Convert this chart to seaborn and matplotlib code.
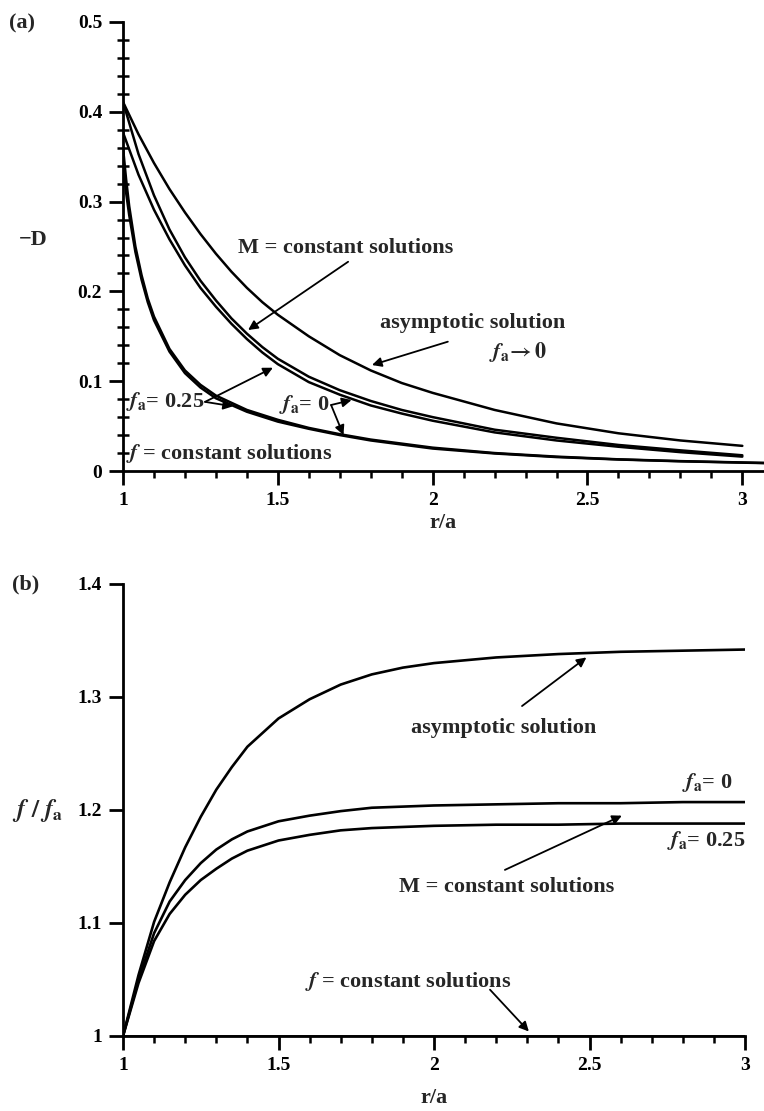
import numpy as np
import pandas as pd
import matplotlib
matplotlib.use('Agg')
import matplotlib.pyplot as plt
from matplotlib.ticker import MultipleLocator
import seaborn as sns

# ---- panel (a): -D vs r/a ----
r_asym_a = [1.0, 1.05, 1.1, 1.15, 1.2, 1.25, 1.3, 1.35, 1.4, 1.45, 1.5, 1.6, 1.7, 1.8, 1.9, 2.0, 2.2, 2.4, 2.6, 2.8, 3.0]
d_asym = [0.411, 0.375, 0.343, 0.314, 0.288, 0.264, 0.242, 0.222, 0.204, 0.188, 0.174, 0.150, 0.129, 0.112, 0.098,
          0.087, 0.068, 0.053, 0.042, 0.034, 0.028]

r_m = [1.0, 1.05, 1.1, 1.15, 1.2, 1.25, 1.3, 1.35, 1.4, 1.45, 1.5, 1.6, 1.7, 1.8, 1.9, 2.0, 2.2, 2.4, 2.6, 2.8, 3.0]
d_m0 = [0.411, 0.353, 0.307, 0.269, 0.238, 0.212, 0.190, 0.170, 0.153, 0.138, 0.125, 0.105, 0.090, 0.078, 0.068,
        0.060, 0.046, 0.037, 0.029, 0.023, 0.0175]
d_m25 = [0.377, 0.330, 0.291, 0.258, 0.229, 0.204, 0.183, 0.164, 0.147, 0.132, 0.119, 0.099, 0.085, 0.073, 0.064,
         0.056, 0.043, 0.034, 0.027, 0.021, 0.016]

r_f = [1.0, 1.01, 1.02, 1.04, 1.06, 1.08, 1.1, 1.15, 1.2, 1.25, 1.3, 1.4, 1.5, 1.6, 1.7, 1.8, 2.0, 2.2, 2.4, 2.6, 2.8, 3.0, 3.07]
d_f0 = [0.360, 0.325, 0.295, 0.250, 0.218, 0.192, 0.172, 0.136, 0.112, 0.096, 0.084, 0.068, 0.057, 0.048, 0.041,
        0.035, 0.026, 0.020, 0.016, 0.013, 0.011, 0.0095, 0.009]
d_f25 = [0.340, 0.310, 0.285, 0.244, 0.213, 0.188, 0.168, 0.133, 0.109, 0.093, 0.081, 0.066, 0.055, 0.047, 0.040,
         0.034, 0.025, 0.0195, 0.0155, 0.0128, 0.0108, 0.0093, 0.0088]

# ---- panel (b): f/f_a vs r/a ----
r_b = [1.0, 1.05, 1.1, 1.15, 1.2, 1.25, 1.3, 1.35, 1.4, 1.5, 1.6, 1.7, 1.8, 1.9, 2.0, 2.2, 2.4, 2.6, 2.8, 3.0]
g_asym = [1.000, 1.054, 1.101, 1.136, 1.167, 1.194, 1.218, 1.238, 1.256, 1.281, 1.298, 1.311, 1.320, 1.326, 1.330,
          1.335, 1.338, 1.340, 1.341, 1.342]
g_m0 = [1.000, 1.050, 1.091, 1.119, 1.138, 1.153, 1.165, 1.174, 1.181, 1.190, 1.195, 1.199, 1.202, 1.203, 1.204,
        1.205, 1.206, 1.206, 1.207, 1.207]
g_m25 = [1.000, 1.047, 1.084, 1.108, 1.125, 1.138, 1.148, 1.157, 1.164, 1.173, 1.178, 1.182, 1.184, 1.185, 1.186,
         1.187, 1.187, 1.188, 1.188, 1.188]
r_fconst = [1.0, 3.0]
g_fconst = [1.0, 1.0]

sns.set_theme(style='ticks')
plt.rcParams['font.family'] = ['Liberation Serif', 'DejaVu Serif']
plt.rcParams['font.weight'] = 'bold'
plt.rcParams['axes.labelweight'] = 'bold'
plt.rcParams['mathtext.fontset'] = 'stix'

W, H = 764, 1111
fig = plt.figure(figsize=(W / 100, H / 100), dpi=100)
ax_a = fig.add_axes([123 / W, 1 - 471 / H, 641 / W, 449 / H])
ax_b = fig.add_axes([123 / W, 1 - 1036 / H, 622 / W, 452 / H])

for x, y in [(r_asym_a, d_asym), (r_m, d_m0), (r_m, d_m25), (r_f, d_f0), (r_f, d_f25)]:
    sns.lineplot(x=x, y=y, ax=ax_a, color='black', lw=1.8, sort=True, estimator=None)
for x, y in [(r_b, g_asym), (r_b, g_m0), (r_b, g_m25), (r_fconst, g_fconst)]:
    sns.lineplot(x=x, y=y, ax=ax_b, color='black', lw=1.9, sort=True, estimator=None)

TXT = 16
arr = dict(arrowstyle='-|>', color='black', lw=1.3, mutation_scale=14, shrinkA=0, shrinkB=0)

def arrow(ax, start, tip):
    ax.annotate('', xy=tip, xytext=start, arrowprops=arr)

# annotations (a)
ax_a.text(1.72, 0.248, 'M = constant solutions', ha='center', va='center', fontsize=TXT)
arrow(ax_a, (1.727, 0.233), (1.404, 0.157))
ax_a.text(2.13, 0.165, 'asymptotic solution', ha='center', va='center', fontsize=TXT)
ax_a.text(2.275, 0.132, r'$f_{\rm a}\!\rightarrow 0$', ha='center', va='center', fontsize=TXT)
arrow(ax_a, (2.049, 0.144), (1.804, 0.118))
ax_a.text(1.011, 0.077, r'$f_{\rm a}$= 0.25', ha='left', va='center', fontsize=TXT)
arrow(ax_a, (1.265, 0.077), (1.484, 0.115))
arrow(ax_a, (1.265, 0.077), (1.355, 0.072))
ax_a.text(1.505, 0.0735, r'$f_{\rm a}$= 0', ha='left', va='center', fontsize=TXT)
arrow(ax_a, (1.672, 0.0735), (1.738, 0.079))
arrow(ax_a, (1.672, 0.0735), (1.712, 0.040))
ax_a.text(1.011, 0.020, r'$f$ = constant solutions', ha='left', va='center', fontsize=TXT)

# annotations (b)
ax_b.text(2.225, 1.273, 'asymptotic solution', ha='center', va='center', fontsize=TXT)
arrow(ax_b, (2.283, 1.292), (2.49, 1.335))
ax_b.text(2.96, 1.224, r'$f_{\rm a}$= 0', ha='right', va='center', fontsize=TXT)
ax_b.text(3.0, 1.173, r'$f_{\rm a}$= 0.25', ha='right', va='center', fontsize=TXT)
ax_b.text(2.235, 1.132, 'M = constant solutions', ha='center', va='center', fontsize=TXT)
arrow(ax_b, (2.228, 1.147), (2.604, 1.195))
ax_b.text(1.917, 1.048, r'$f$ = constant solutions', ha='center', va='center', fontsize=TXT)
arrow(ax_b, (2.18, 1.041), (2.305, 1.004))

# axes styling
ax_a.set_xlim(1, 3.07)
ax_a.set_ylim(0, 0.5)
ax_a.set_xticks([1, 1.5, 2, 2.5, 3], ['1', '1.5', '2', '2.5', '3'])
ax_a.set_yticks([0, 0.1, 0.2, 0.3, 0.4, 0.5], ['0', '0.1', '0.2', '0.3', '0.4', '0.5'])
ax_a.xaxis.set_minor_locator(MultipleLocator(0.1))
ax_a.yaxis.set_minor_locator(MultipleLocator(0.02))

ax_b.set_xlim(1, 3.0)
ax_b.set_ylim(1, 1.4)
ax_b.set_xticks([1, 1.5, 2, 2.5, 3], ['1', '1.5', '2', '2.5', '3'])
ax_b.set_yticks([1, 1.1, 1.2, 1.3, 1.4], ['1', '1.1', '1.2', '1.3', '1.4'])
ax_b.xaxis.set_minor_locator(MultipleLocator(0.1))

for ax in (ax_a, ax_b):
    sns.despine(ax=ax)
    ax.set_facecolor('white')
    for s in ('left', 'bottom'):
        ax.spines[s].set_linewidth(2.0)
        ax.spines[s].set_color('black')
    ax.tick_params(which='major', direction='out', length=10, width=2, labelsize=14, pad=5, colors='black')
    ax.tick_params(which='minor', direction='out', length=5, width=1.8, colors='black')
ax_a.tick_params(axis='y', which='minor', direction='inout', length=8)

ax_a.set_xlabel('r/a', fontsize=16, fontweight='bold', labelpad=3)
ax_b.set_xlabel('r/a', fontsize=16, fontweight='bold', labelpad=10)
ax_a.set_ylabel('\u2212D', fontsize=16, fontweight='bold', rotation=0, va='center', ha='center')
ax_a.yaxis.set_label_coords(-0.14, 0.514)
ax_b.set_ylabel(r'$f\ /\ f_{\rm a}$', fontsize=18, rotation=0, va='center', ha='center')
ax_b.yaxis.set_label_coords(-0.137, 0.5)

ax_a.text(-0.158, 0.996, '(a)', transform=ax_a.transAxes, ha='center', va='center', fontsize=16)
ax_b.text(-0.156, 1.0, '(b)', transform=ax_b.transAxes, ha='center', va='center', fontsize=16)

fig.savefig('out.png', dpi=100, facecolor='white')
